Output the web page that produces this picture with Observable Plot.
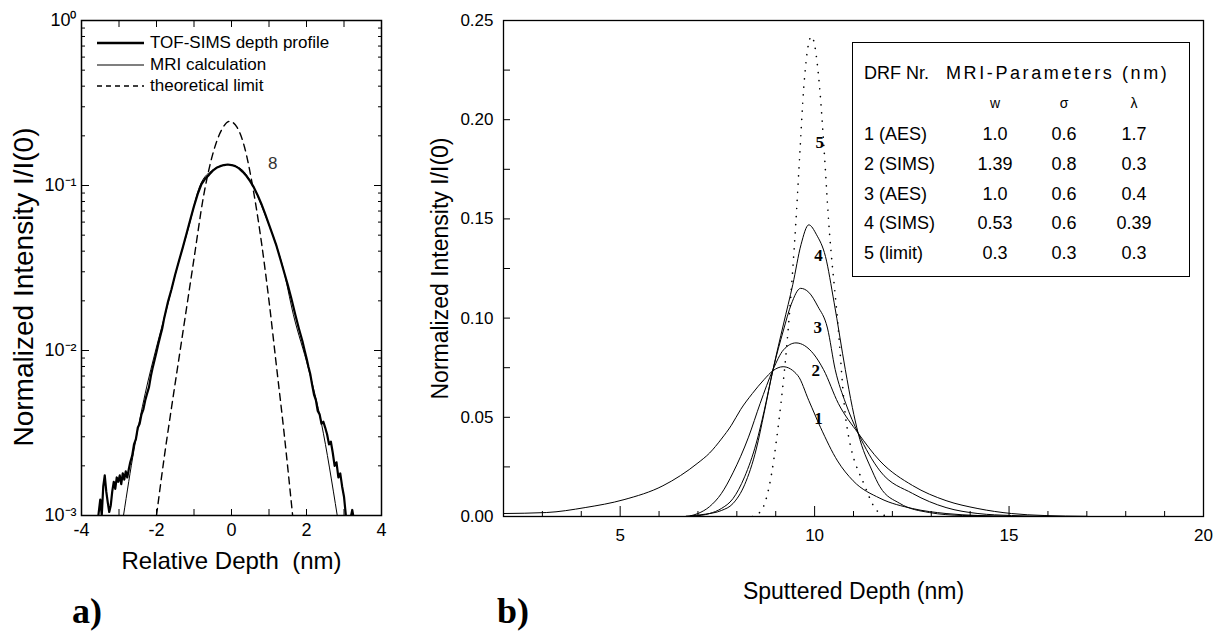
<!DOCTYPE html>
<html><head><meta charset="utf-8">
<script src="https://cdn.jsdelivr.net/npm/d3@7"></script>
<script src="https://cdn.jsdelivr.net/npm/@observablehq/plot@0.6"></script>
<style>
html,body{margin:0;padding:0;background:#fff;}
body{width:1220px;height:635px;position:relative;overflow:hidden;font-family:"Liberation Sans",Arial,sans-serif;color:#000;}
.abs{position:absolute;}
.panel{font-family:"Liberation Serif","DejaVu Serif",serif;font-weight:bold;font-size:36px;line-height:36px;}
.leg-row{position:absolute;left:97px;height:20px;display:flex;align-items:center;font-size:17px;white-space:nowrap;}
.leg-row svg{margin-right:6px;flex:none;}
#table{left:852px;top:42px;width:336px;height:233px;border:1.5px solid #000;font-size:18px;}
#table span{position:absolute;white-space:nowrap;line-height:20px;}
</style></head><body>
<div id="pa" class="abs" style="left:0;top:0"></div>
<div id="pb" class="abs" style="left:420px;top:0"></div>
<div id="legend" class="abs" style="left:0;top:0;width:400px;height:120px"></div>
<div id="table" class="abs"></div>
<div class="abs panel" style="left:72px;top:593px">a)</div>
<div class="abs panel" style="left:497px;top:593px">b)</div>
<script>
// ---------- Panel a) data: relative depth (nm) vs normalized intensity ----------
const tofSims = [
[-3.55,0.00100],[-3.50,0.00125],[-3.46,0.00100],[-3.42,0.00150],[-3.38,0.00175],[-3.34,0.00140],
[-3.30,0.00120],[-3.26,0.00105],[-3.22,0.00115],[-3.18,0.00140],[-3.14,0.00160],[-3.10,0.00145],
[-3.06,0.00170],[-3.02,0.00160],[-2.98,0.00175],[-2.94,0.00155],[-2.90,0.00180],[-2.86,0.00165],
[-2.82,0.00185],[-2.78,0.00170],[-2.74,0.00190],[-2.70,0.00210],[-2.65,0.00230],[-2.60,0.00270],
[-2.55,0.00290],[-2.50,0.00340],[-2.45,0.00360],[-2.40,0.00410],[-2.35,0.00440],[-2.30,0.00500],
[-2.25,0.00550],[-2.20,0.00600],[-2.15,0.00700],[-2.10,0.00790],[-2.05,0.00880],[-2.00,0.00980],
[-1.95,0.0110],[-1.90,0.0122],[-1.85,0.0135],[-1.80,0.0155],[-1.70,0.0195],[-1.60,0.0235],
[-1.50,0.0290],[-1.40,0.0350],[-1.30,0.0420],[-1.20,0.0510],[-1.10,0.0620],[-1.00,0.0750],
[-0.90,0.0890],[-0.80,0.1020],[-0.70,0.1100],[-0.60,0.1160],[-0.50,0.1230],[-0.40,0.1280],
[-0.30,0.1310],[-0.20,0.1330],[-0.10,0.1340],[0.00,0.1330],[0.10,0.1310],[0.20,0.1270],
[0.30,0.1210],[0.40,0.1140],[0.50,0.1060],[0.60,0.0970],[0.70,0.0870],[0.80,0.0770],
[0.90,0.0670],[1.00,0.0580],[1.10,0.0500],[1.20,0.0430],[1.30,0.0360],[1.40,0.0300],
[1.50,0.0250],[1.60,0.0205],[1.70,0.0165],[1.80,0.0135],[1.90,0.0112],[1.95,0.0100],
[2.00,0.0090],[2.05,0.0080],[2.10,0.0072],[2.15,0.0062],[2.20,0.0054],[2.25,0.0050],
[2.30,0.0043],[2.35,0.0041],[2.40,0.0036],[2.45,0.0037],[2.50,0.0034],[2.55,0.0031],
[2.60,0.0027],[2.65,0.0028],[2.70,0.0024],[2.75,0.0020],[2.80,0.0021],[2.85,0.0017],
[2.90,0.0018],[2.95,0.0015],[3.00,0.0013],[3.05,0.0010],[3.10,0.00095],[3.15,0.00090],
[3.22,0.00108],[3.28,0.00090]
];
const mriCalc = [
[-2.88,0.001],[-2.6,0.0025],[-2.3,0.0055],[-2.0,0.0105],[-1.7,0.019],[-1.48,0.030],
[-1.15,0.055],[-0.84,0.100],[-0.5,0.124],[-0.1,0.134],[0.25,0.126],[0.57,0.100],
[0.9,0.066],[1.2,0.043],[1.37,0.032],[1.65,0.0165],[2.05,0.0078],[2.4,0.0036],[2.82,0.001]
];
const theoLimit = [
[-2.0,0.001],[-1.8,0.0022],[-1.6,0.0045],[-1.4,0.009],[-1.2,0.018],[-1.0,0.036],
[-0.75,0.085],[-0.5,0.155],[-0.25,0.22],[-0.05,0.245],[0.15,0.225],[0.35,0.17],
[0.56,0.100],[0.8,0.045],[1.0,0.020],[1.2,0.008],[1.4,0.0032],[1.63,0.001]
];
const legendA = ["TOF-SIMS depth profile", "MRI calculation", "theoretical limit"];
const labelsA = [{x: 1.1, y: 0.136, text: "8"}];
const xTickLabelsA = [-4, -2, 0, 2, 4];
const xTickMarksA = [-4, -3, -2, -1, 0, 1, 2, 3, 4];
const yDecadesA = [0.001, 0.01, 0.1, 1];
const yDecadeLabelsA = ["10\u207B\u00B3", "10\u207B\u00B2", "10\u207B\u00B9", "10\u2070"];

// ---------- Panel b) data: sputtered depth (nm) vs normalized intensity ----------
const drf1 = [[2.0,0.0015],[3.1,0.002],[4.1,0.0045],[5.1,0.0085],[6.1,0.0155],[7.0,0.027],[7.3,0.032],
[7.6,0.039],[7.86,0.046],[8.1,0.054],[8.4,0.062],[8.7,0.069],[8.93,0.0735],[9.19,0.0755],[9.57,0.071],
[9.85,0.0585],[10.15,0.045],[10.59,0.028],[10.99,0.018],[11.68,0.0092],[12.52,0.004],[13.38,0.0015],
[14.2,0.0005],[15.0,0.0001]];
const drf2 = [[6.8,0.0003],[7.0,0.0015],[7.3,0.005],[7.6,0.0115],[7.9,0.022],[8.3,0.040],[8.6,0.057],
[8.93,0.074],[9.2,0.084],[9.52,0.0875],[9.97,0.082],[10.23,0.074],[10.61,0.057],[11.12,0.042],[11.68,0.028],
[12.52,0.0156],[13.38,0.008],[14.2,0.004],[15.06,0.0015],[15.9,0.0005],[17.0,0.0001]];
const drf3 = [[6.9,0.0002],[7.3,0.0015],[7.6,0.004],[7.9,0.009],[8.2,0.020],[8.5,0.037],[8.7,0.053],
[8.93,0.074],[9.2,0.094],[9.4,0.107],[9.64,0.115],[9.85,0.113],[10.08,0.106],[10.33,0.095],[10.53,0.074],
[10.8,0.057],[11.12,0.042],[11.68,0.023],[12.52,0.0116],[13.38,0.0045],[14.2,0.0015],[15.06,0.0005],[16.0,0.0001]];
const drf4 = [[6.7,0.0002],[7.2,0.0012],[7.6,0.003],[7.9,0.0065],[8.2,0.016],[8.5,0.034],[8.7,0.052],
[8.93,0.074],[9.2,0.097],[9.44,0.117],[9.65,0.137],[9.85,0.147],[10.05,0.142],[10.28,0.131],[10.5,0.108],
[10.79,0.074],[10.97,0.055],[11.12,0.042],[11.48,0.023],[11.68,0.015],[12.19,0.0066],[12.95,0.002],
[13.8,0.0005],[15.0,0.0001]];
const drf5 = [[8.4,0.0],[8.63,0.003],[8.83,0.015],[9.08,0.048],[9.34,0.099],[9.52,0.149],[9.62,0.183],
[9.72,0.216],[9.92,0.242],[10.13,0.216],[10.25,0.183],[10.36,0.149],[10.59,0.099],[10.81,0.048],
[11.3,0.015],[11.6,0.003],[11.9,0.0]];
const labelsB = [
  {x: 10.13, y: 0.1885, text: "5"}, {x: 10.10, y: 0.1316, text: "4"},
  {x: 10.08, y: 0.0953, text: "3"}, {x: 10.03, y: 0.0736, text: "2"}, {x: 10.10, y: 0.0494, text: "1"}
];
const xTickLabelsB = [5, 10, 15, 20];
const yTickLabelsB = [0, 0.05, 0.10, 0.15, 0.20, 0.25];
const yTickMarksB = [0, 0.025, 0.05, 0.075, 0.10, 0.125, 0.15, 0.175, 0.20, 0.225, 0.25];

// ---------- Table (MRI parameters) ----------
const tableHeader = ["DRF Nr.", "MRI-Parameters (nm)"];
const paramNames = ["w", "\u03C3", "\u03BB"];
const drfNames = ["1 (AES)", "2 (SIMS)", "3 (AES)", "4 (SIMS)", "5 (limit)"];
const paramW = ["1.0", "1.39", "1.0", "0.53", "0.3"];
const paramSigma = ["0.6", "0.8", "0.6", "0.6", "0.3"];
const paramLambda = ["1.7", "0.3", "0.4", "0.39", "0.3"];

// ---------- helpers ----------
const px = d => d[0], py = d => d[1];
const xMinorB = d3.range(2, 21).filter(v => v % 5 !== 0);
const xMajorB = d3.range(2, 21).filter(v => v % 5 === 0);
const yMinorA = [];
for (const dec of [0.001, 0.01, 0.1]) for (let k = 2; k <= 9; k++) yMinorA.push(k * dec);

// ---------- Panel a ----------
const plotA = Plot.plot({
  width: 400, height: 580,
  marginLeft: 81, marginRight: 19, marginTop: 20, marginBottom: 65,
  style: {fontFamily: "'Liberation Sans', Arial, sans-serif", background: "transparent", color: "#000", overflow: "visible"},
  x: {domain: [-4, 4], axis: null, label: null},
  y: {type: "log", domain: [0.001, 1], axis: null, label: null},
  marks: [
    Plot.axisX({anchor: "bottom", ticks: xTickLabelsA, tickSize: 0, tickPadding: 8, fontSize: 18, tickFormat: d => String(d), label: null}),
    Plot.axisX({anchor: "bottom", ticks: xTickMarksA, tickSize: 6, dy: -6, tickFormat: () => "", label: null}),
    Plot.axisX({anchor: "top", ticks: xTickMarksA, tickSize: 6, dy: 6, tickFormat: () => "", label: null}),
    Plot.axisY({anchor: "left", ticks: yDecadesA, tickSize: 0, tickPadding: 5, fontSize: 18,
      tickFormat: d => yDecadeLabelsA[Math.round(Math.log10(d)) + 3], label: null}),
    Plot.axisY({anchor: "left", ticks: yDecadesA, tickSize: 8, dx: 8, tickFormat: () => "", label: null}),
    Plot.axisY({anchor: "left", ticks: yMinorA, tickSize: 4, dx: 4, tickFormat: () => "", label: null}),
    Plot.axisY({anchor: "right", ticks: yDecadesA, tickSize: 8, dx: -8, tickFormat: () => "", label: null}),
    Plot.axisY({anchor: "right", ticks: yMinorA, tickSize: 4, dx: -4, tickFormat: () => "", label: null}),
    Plot.line(theoLimit, {x: px, y: py, stroke: "#000", strokeWidth: 1.4, strokeDasharray: "7 5", curve: "monotone-x", clip: true}),
    Plot.line(mriCalc, {x: px, y: py, stroke: "#000", strokeWidth: 1, curve: "monotone-x", clip: true}),
    Plot.line(tofSims, {x: px, y: py, stroke: "#000", strokeWidth: 2.2, curve: "linear", clip: true}),
    Plot.text(labelsA, {x: "x", y: "y", text: "text", fontSize: 17, fill: "#333"}),
    Plot.frame({stroke: "#000", strokeWidth: 1.5}),
    Plot.text(["Relative Depth\u00A0\u00A0(nm)"], {frameAnchor: "bottom", textAnchor: "middle", dy: 53, fontSize: 24, text: d => d}),
    Plot.text(["Normalized Intensity I/I(0)"], {frameAnchor: "left", textAnchor: "middle", dx: -57, dy: 19, rotate: -90, fontSize: 28, text: d => d})
  ]
});
document.getElementById("pa").appendChild(plotA);

// legend for panel a
const legendStyles = [
  {w: 2.6, dash: null},
  {w: 1.2, dash: null},
  {w: 1.4, dash: "5 4"}
];
const legDiv = document.getElementById("legend");
legendA.forEach((name, i) => {
  const row = document.createElement("div");
  row.className = "leg-row";
  row.style.top = (33 + i * 21.5) + "px";
  const s = legendStyles[i];
  row.innerHTML = `<svg width="47" height="10"><line x1="0" x2="47" y1="5" y2="5" stroke="#000" stroke-width="${s.w}" ${s.dash ? `stroke-dasharray="${s.dash}"` : ""}/></svg><span>${name}</span>`;
  legDiv.appendChild(row);
});

// ---------- Panel b ----------
const plotB = Plot.plot({
  width: 800, height: 620,
  marginLeft: 83, marginRight: 17, marginTop: 20, marginBottom: 104,
  style: {fontFamily: "'Liberation Sans', Arial, sans-serif", background: "transparent", color: "#000", overflow: "visible"},
  x: {domain: [2, 20], axis: null, label: null},
  y: {domain: [0, 0.25], axis: null, label: null},
  marks: [
    Plot.axisX({anchor: "bottom", ticks: xTickLabelsB, tickSize: 0, tickPadding: 12, fontSize: 17, tickFormat: d => String(d), label: null}),
    Plot.axisX({anchor: "bottom", ticks: xMinorB, tickSize: 5, dy: -5, tickFormat: () => "", label: null}),
    Plot.axisX({anchor: "bottom", ticks: xMajorB, tickSize: 10, dy: -10, tickFormat: () => "", label: null}),
    Plot.axisY({anchor: "left", ticks: yTickLabelsB, tickSize: 0, tickPadding: 10, fontSize: 17, tickFormat: d3.format(".2f"), label: null}),
    Plot.axisY({anchor: "left", ticks: yTickMarksB, tickSize: 7, dx: 7, tickFormat: () => "", label: null}),
    Plot.line(drf5, {x: px, y: py, stroke: "#000", strokeWidth: 1.6, strokeDasharray: "0.1 8", strokeLinecap: "round", curve: "monotone-x", clip: true}),
    Plot.line(drf1, {x: px, y: py, stroke: "#000", strokeWidth: 1, curve: "monotone-x", clip: true}),
    Plot.line(drf2, {x: px, y: py, stroke: "#000", strokeWidth: 1, curve: "monotone-x", clip: true}),
    Plot.line(drf3, {x: px, y: py, stroke: "#000", strokeWidth: 1, curve: "monotone-x", clip: true}),
    Plot.line(drf4, {x: px, y: py, stroke: "#000", strokeWidth: 1, curve: "monotone-x", clip: true}),
    Plot.text(labelsB, {x: "x", y: "y", text: "text", fontSize: 17, fontWeight: "bold", fontFamily: "'Liberation Serif', serif", fill: "#000"}),
    Plot.frame({stroke: "#000", strokeWidth: 1.3}),
    Plot.text(["Sputtered Depth (nm)"], {frameAnchor: "bottom", textAnchor: "middle", dy: 82, fontSize: 23, text: d => d}),
    Plot.text(["Normalized Intensity I/I(0)"], {frameAnchor: "left", textAnchor: "middle", dx: -63, dy: 0, rotate: -90, fontSize: 23, text: d => d})
  ]
});
document.getElementById("pb").appendChild(plotB);

// ---------- table overlay ----------
const tbl = document.getElementById("table");
function cell(text, left, cy, opts = {}) {
  const s = document.createElement("span");
  s.textContent = text;
  s.style.top = (cy - 10) + "px";
  s.style.left = left + "px";
  if (opts.center) s.style.transform = "translateX(-50%)";
  if (opts.size) s.style.fontSize = opts.size + "px";
  if (opts.spacing) s.style.letterSpacing = opts.spacing + "px";
  tbl.appendChild(s);
}
const colX = [142, 211, 281];
cell(tableHeader[0], 11, 30);
cell(tableHeader[1], 93, 30, {spacing: 2.6});
paramNames.forEach((p, j) => cell(p, colX[j], 60, {center: true, size: 14}));
drfNames.forEach((n, i) => {
  const cy = 91 + i * 29.8;
  cell(n, 11, cy);
  [paramW[i], paramSigma[i], paramLambda[i]].forEach((v, j) => cell(v, colX[j], cy, {center: true}));
});
</script>
</body></html>
